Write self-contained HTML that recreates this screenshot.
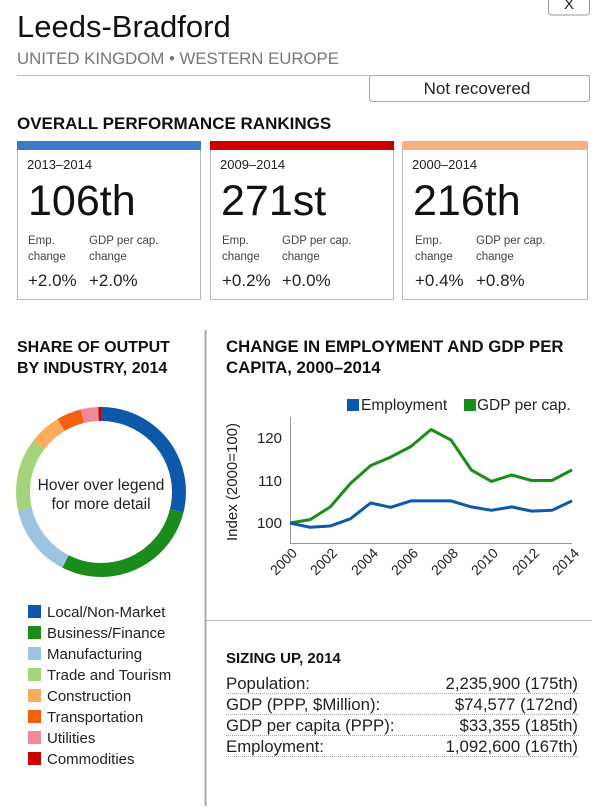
<!DOCTYPE html>
<html><head><meta charset="utf-8"><style>
body{margin:0;background:#fff;}
svg text{font-family:"Liberation Sans",Arial,sans-serif;}
</style></head><body>
<svg width="600" height="806" viewBox="0 0 600 806" xmlns="http://www.w3.org/2000/svg">
<rect width="600" height="806" fill="#fff"/>
<rect x="548.5" y="-6" width="41" height="21" rx="3" fill="#fff" stroke="#999"/>
<text x="569" y="9" font-size="15" text-anchor="middle" fill="#222">X</text>
<text x="17" y="37" font-size="31" fill="#111">Leeds-Bradford</text>
<text x="17" y="64" font-size="16.8" fill="#777">UNITED KINGDOM • WESTERN EUROPE</text>
<line x1="17" y1="75.5" x2="590" y2="75.5" stroke="#bbb"/>
<rect x="369.5" y="75.5" width="220" height="26" rx="3" fill="#fff" stroke="#aaa"/>
<text x="477" y="94" font-size="17" text-anchor="middle" fill="#222">Not recovered</text>
<text x="17" y="129" font-size="17" font-weight="bold" fill="#111">OVERALL PERFORMANCE RANKINGS</text>
<g>
<rect x="17.5" y="141.5" width="183" height="158" fill="#fff" stroke="#bbb"/>
<rect x="17" y="141" width="184" height="9" fill="#3a78c8"/>
<text x="27" y="169" font-size="13" fill="#222">2013–2014</text>
<text x="28" y="215" font-size="43" fill="#111">106th</text>
<text x="28" y="244" font-size="11.5" fill="#444">Emp.</text><text x="28" y="260" font-size="11.5" fill="#444">change</text>
<text x="89" y="244" font-size="11.5" fill="#444">GDP per cap.</text><text x="89" y="260" font-size="11.5" fill="#444">change</text>
<text x="28" y="286" font-size="17" fill="#222">+2.0%</text><text x="89" y="286" font-size="17" fill="#222">+2.0%</text>
</g>
<g>
<rect x="210.5" y="141.5" width="183" height="158" fill="#fff" stroke="#bbb"/>
<rect x="210" y="141" width="184" height="9" fill="#cc0000"/>
<text x="220" y="169" font-size="13" fill="#222">2009–2014</text>
<text x="221" y="215" font-size="43" fill="#111">271st</text>
<text x="222" y="244" font-size="11.5" fill="#444">Emp.</text><text x="222" y="260" font-size="11.5" fill="#444">change</text>
<text x="282" y="244" font-size="11.5" fill="#444">GDP per cap.</text><text x="282" y="260" font-size="11.5" fill="#444">change</text>
<text x="222" y="286" font-size="17" fill="#222">+0.2%</text><text x="282" y="286" font-size="17" fill="#222">+0.0%</text>
</g>
<g>
<rect x="402.5" y="141.5" width="185" height="158" fill="#fff" stroke="#bbb"/>
<rect x="402" y="141" width="186" height="9" fill="#f8b080"/>
<text x="412" y="169" font-size="13" fill="#222">2000–2014</text>
<text x="413" y="215" font-size="43" fill="#111">216th</text>
<text x="415" y="244" font-size="11.5" fill="#444">Emp.</text><text x="415" y="260" font-size="11.5" fill="#444">change</text>
<text x="476" y="244" font-size="11.5" fill="#444">GDP per cap.</text><text x="476" y="260" font-size="11.5" fill="#444">change</text>
<text x="415" y="286" font-size="17" fill="#222">+0.4%</text><text x="476" y="286" font-size="17" fill="#222">+0.8%</text>
</g>
<line x1="205.5" y1="330" x2="205.5" y2="806" stroke="#aaa" stroke-width="2"/>
<line x1="206" y1="620.5" x2="592" y2="620.5" stroke="#bbb"/>
<text x="17" y="352" font-size="16" font-weight="bold" fill="#111">SHARE OF OUTPUT</text>
<text x="17" y="373" font-size="16" font-weight="bold" fill="#111">BY INDUSTRY, 2014</text>
<g transform="rotate(-90 101 492)" fill="none" stroke-width="14">
<circle cx="101" cy="492" r="78" stroke="#0b59a8" stroke-dasharray="141.6 1000" stroke-dashoffset="0"/>
<circle cx="101" cy="492" r="78" stroke="#1a8c1a" stroke-dasharray="140.2 1000" stroke-dashoffset="-141.6"/>
<circle cx="101" cy="492" r="78" stroke="#9cc4e0" stroke-dasharray="68.1 1000" stroke-dashoffset="-281.8"/>
<circle cx="101" cy="492" r="78" stroke="#a6d47c" stroke-dasharray="68.1 1000" stroke-dashoffset="-349.9"/>
<circle cx="101" cy="492" r="78" stroke="#f8ad5c" stroke-dasharray="30 1000" stroke-dashoffset="-418"/>
<circle cx="101" cy="492" r="78" stroke="#f46010" stroke-dasharray="23.1 1000" stroke-dashoffset="-448"/>
<circle cx="101" cy="492" r="78" stroke="#f0879a" stroke-dasharray="16.3 1000" stroke-dashoffset="-471.1"/>
<circle cx="101" cy="492" r="78" stroke="#cc0000" stroke-dasharray="2.8 1000" stroke-dashoffset="-487.4"/>
</g>
<text x="101" y="490" font-size="15.5" text-anchor="middle" fill="#222">Hover over legend</text>
<text x="101" y="509" font-size="15.5" text-anchor="middle" fill="#222">for more detail</text>
<g font-size="15" fill="#222">
<rect x="28" y="605" width="13" height="13" fill="#0b59a8"/><text x="47" y="617">Local/Non-Market</text>
<rect x="28" y="626" width="13" height="13" fill="#1a8c1a"/><text x="47" y="638">Business/Finance</text>
<rect x="28" y="647" width="13" height="13" fill="#9cc4e0"/><text x="47" y="659">Manufacturing</text>
<rect x="28" y="668" width="13" height="13" fill="#a6d47c"/><text x="47" y="680">Trade and Tourism</text>
<rect x="28" y="689" width="13" height="13" fill="#f8ad5c"/><text x="47" y="701">Construction</text>
<rect x="28" y="710" width="13" height="13" fill="#f46010"/><text x="47" y="722">Transportation</text>
<rect x="28" y="731" width="13" height="13" fill="#f0879a"/><text x="47" y="743">Utilities</text>
<rect x="28" y="752" width="13" height="13" fill="#cc0000"/><text x="47" y="764">Commodities</text>
</g>
<text x="226" y="352" font-size="16.8" font-weight="bold" fill="#111">CHANGE IN EMPLOYMENT AND GDP PER</text>
<text x="226" y="373" font-size="16.8" font-weight="bold" fill="#111">CAPITA, 2000–2014</text>
<rect x="347" y="399" width="12" height="12" fill="#0b59a8"/><text x="361" y="410" font-size="15.5" fill="#222">Employment</text>
<rect x="464" y="399" width="12" height="12" fill="#1a8c1a"/><text x="477" y="410" font-size="15.5" fill="#222">GDP per cap.</text>
<line x1="290.5" y1="417" x2="290.5" y2="543" stroke="#999"/>
<line x1="290" y1="543.5" x2="572" y2="543.5" stroke="#999"/>
<g font-size="15" fill="#222" text-anchor="end">
<text x="282" y="443">120</text><text x="282" y="486">110</text><text x="282" y="528">100</text>
</g>
<text transform="translate(237 482) rotate(-90)" font-size="15" text-anchor="middle" fill="#222">Index (2000=100)</text>
<g font-size="14" fill="#222" text-anchor="end">
<text transform="translate(298 554) rotate(-45)">2000</text>
<text transform="translate(338 554) rotate(-45)">2002</text>
<text transform="translate(379 554) rotate(-45)">2004</text>
<text transform="translate(419 554) rotate(-45)">2006</text>
<text transform="translate(459 554) rotate(-45)">2008</text>
<text transform="translate(499 554) rotate(-45)">2010</text>
<text transform="translate(540 554) rotate(-45)">2012</text>
<text transform="translate(580 554) rotate(-45)">2014</text>
</g>
<polyline fill="none" stroke="#1a8c1a" stroke-width="3" stroke-linejoin="round" points="290,523 310.1,519.6 330.3,506.9 350.4,483.5 370.6,465.6 390.7,457.1 410.9,446.5 431,429.5 451.1,440.1 471.3,469.9 491.4,481.4 511.6,475 531.7,480.5 551.9,480.5 572,469.9"/>
<polyline fill="none" stroke="#0b59a8" stroke-width="3" stroke-linejoin="round" points="290,523 310.1,527.3 330.3,526 350.4,518.8 370.6,503 390.7,507.3 410.9,500.9 431,500.9 451.1,500.9 471.3,506.9 491.4,510.3 511.6,506.9 531.7,511.1 551.9,510.3 572,500.9"/>
<text x="226" y="663" font-size="15" font-weight="bold" fill="#111">SIZING UP, 2014</text>
<g font-size="16.8" fill="#222">
<text x="226" y="689">Population:</text><text x="578" y="689" text-anchor="end">2,235,900 (175th)</text>
<text x="226" y="710">GDP (PPP, $Million):</text><text x="578" y="710" text-anchor="end">$74,577 (172nd)</text>
<text x="226" y="731">GDP per capita (PPP):</text><text x="578" y="731" text-anchor="end">$33,355 (185th)</text>
<text x="226" y="752">Employment:</text><text x="578" y="752" text-anchor="end">1,092,600 (167th)</text>
</g>
<g stroke="#aaa" stroke-dasharray="1 1">
<line x1="226" y1="693.5" x2="580" y2="693.5"/>
<line x1="226" y1="714.5" x2="580" y2="714.5"/>
<line x1="226" y1="735.5" x2="580" y2="735.5"/>
<line x1="226" y1="756.5" x2="580" y2="756.5"/>
</g>
</svg>
</body></html>
